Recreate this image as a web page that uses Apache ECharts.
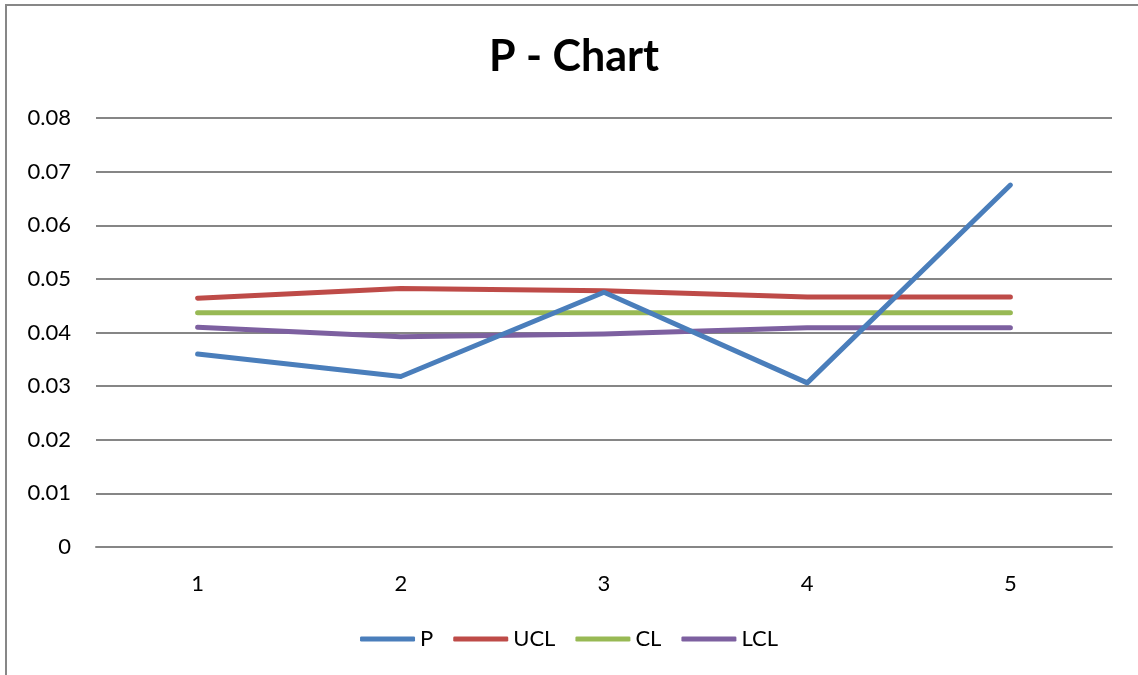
<!DOCTYPE html>
<html>
<head>
<meta charset="utf-8">
<script src="https://cdn.jsdelivr.net/npm/echarts@6/dist/echarts.min.js"></script>
<style>
html,body{margin:0;padding:0;background:#fff;}
#chart{width:1138px;height:675px;}
</style>
</head>
<body>
<div id="chart"></div>
<script>
const categories = ['1', '2', '3', '4', '5'];
const pValues   = [0.0360, 0.0318, 0.0475, 0.0306, 0.0675];
const uclValues = [0.0464, 0.0482, 0.0478, 0.0466, 0.0466];
const clValues  = [0.0437, 0.0437, 0.0437, 0.0437, 0.0437];
const lclValues = [0.0410, 0.0392, 0.0397, 0.0409, 0.0409];
const seriesNames = ['P', 'UCL', 'CL', 'LCL'];
const seriesColors = ['#4A7EBB', '#BE4B48', '#98B954', '#7D60A0'];
const allValues = [pValues, uclValues, clValues, lclValues];

const FONT = 'Lato, "Noto Sans", sans-serif';
const chart = echarts.init(document.getElementById('chart'), null, {renderer: 'canvas'});
chart.setOption({
  animation: false,
  backgroundColor: '#fff',
  title: {
    text: 'P - Chart',
    left: 484,
    top: 31,
    textStyle: {fontFamily: FONT, fontWeight: 'bold', fontSize: 43, color: '#000'}
  },
  graphic: [{
    type: 'polyline',
    shape: {points: [[6, 700], [6, 5], [1160, 5]]},
    style: {stroke: '#878787', lineWidth: 2, fill: null},
    silent: true
  }],
  legend: {
    data: seriesNames,
    bottom: 20,
    left: 'center',
    icon: 'roundRect',
    itemWidth: 55,
    itemHeight: 5,
    itemGap: 20,
    textStyle: {fontFamily: FONT, fontSize: 22, color: '#000'}
  },
  grid: {left: 96, right: 26, top: 118, bottom: 128, containLabel: false},
  xAxis: {
    type: 'category',
    data: categories,
    boundaryGap: true,
    axisLine: {show: true, lineStyle: {color: '#868686', width: 2}},
    axisTick: {show: false},
    axisLabel: {fontFamily: FONT, fontSize: 22, color: '#000', margin: 26}
  },
  yAxis: {
    type: 'value',
    min: 0,
    max: 0.08,
    interval: 0.01,
    axisLine: {show: false},
    axisTick: {show: false},
    splitLine: {lineStyle: {color: '#868686', width: 2}},
    axisLabel: {fontFamily: FONT, fontSize: 22, color: '#000', margin: 25,
      formatter: v => v === 0 ? '0' : v.toFixed(2)}
  },
  series: seriesNames.map((n, i) => ({
    name: n,
    type: 'line',
    data: allValues[i],
    symbol: 'none',
    showSymbol: false,
    z: 10 - i,
    lineStyle: {color: seriesColors[i], width: 5, cap: 'round', join: 'round'},
    itemStyle: {color: seriesColors[i]}
  }))
});
</script>
</body>
</html>
